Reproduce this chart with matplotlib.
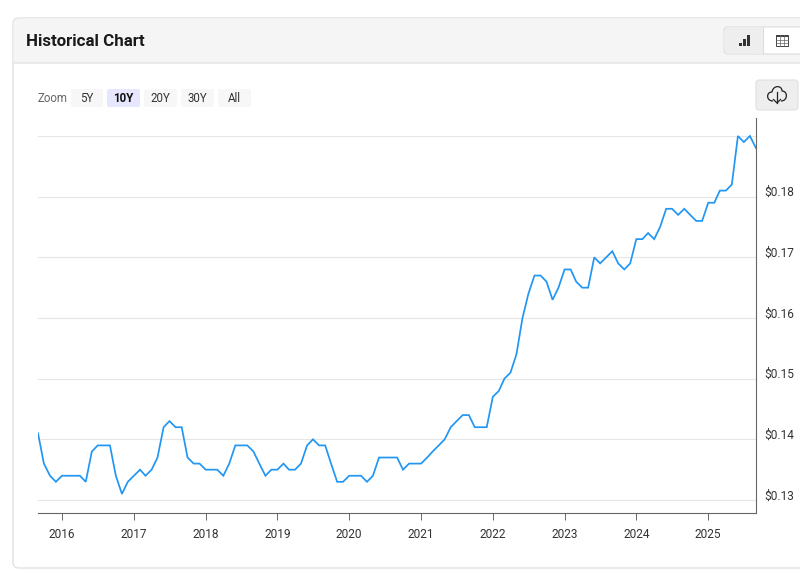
import pandas as pd
import matplotlib
matplotlib.use("Agg")
import matplotlib.pyplot as plt
from matplotlib.patches import FancyBboxPatch, Rectangle, PathPatch
from matplotlib.path import Path

plt.rcParams['font.family'] = ['Roboto', 'DejaVu Sans']

# ----------------------------
# Data (monthly, Sep 2015 - Sep 2025)
# ----------------------------
start_month = "2015-09-01"
values = [
    0.141, 0.136, 0.134, 0.133,
    0.134, 0.134, 0.134, 0.134, 0.133, 0.138, 0.139, 0.139, 0.139, 0.134, 0.131, 0.133,
    0.134, 0.135, 0.134, 0.135, 0.137, 0.142, 0.143, 0.142, 0.142, 0.137, 0.136, 0.136,
    0.135, 0.135, 0.135, 0.134, 0.136, 0.139, 0.139, 0.139, 0.138, 0.136, 0.134, 0.135,
    0.135, 0.136, 0.135, 0.135, 0.136, 0.139, 0.140, 0.139, 0.139, 0.136, 0.133, 0.133,
    0.134, 0.134, 0.134, 0.133, 0.134, 0.137, 0.137, 0.137, 0.137, 0.135, 0.136, 0.136,
    0.136, 0.137, 0.138, 0.139, 0.140, 0.142, 0.143, 0.144, 0.144, 0.142, 0.142, 0.142,
    0.147, 0.148, 0.150, 0.151, 0.154, 0.160, 0.164, 0.167, 0.167, 0.166, 0.163, 0.165,
    0.168, 0.168, 0.166, 0.165, 0.165, 0.170, 0.169, 0.170, 0.171, 0.169, 0.168, 0.169,
    0.173, 0.173, 0.174, 0.173, 0.175, 0.178, 0.178, 0.177, 0.178, 0.177, 0.176, 0.176,
    0.179, 0.179, 0.181, 0.181, 0.182, 0.190, 0.189, 0.190, 0.188,
]
years = [2016, 2017, 2018, 2019, 2020, 2021, 2022, 2023, 2024, 2025]
grid_values = [0.13, 0.14, 0.15, 0.16, 0.17, 0.18, 0.19]
label_values = [0.13, 0.14, 0.15, 0.16, 0.17, 0.18]
zoom_labels = ["5Y", "10Y", "20Y", "30Y", "All"]
selected_zoom = "10Y"

months = pd.date_range(start_month, periods=len(values), freq="MS")

W, H = 800, 574
fig = plt.figure(figsize=(W / 100, H / 100), dpi=100)

# ----------------------------
# Page furniture, in pixels
# ----------------------------
bg = fig.add_axes([0, 0, 1, 1])
bg.set_xlim(0, W)
bg.set_ylim(H, 0)
bg.axis("off")


def box(x0, y0, x1, y1, face, edge="none", r=3, lw=0.8, z=1):
    bg.add_patch(FancyBboxPatch((x0, y0), x1 - x0, y1 - y0,
                                boxstyle=f"round,pad=0,rounding_size={r}",
                                fc=face, ec=edge, lw=lw, zorder=z))


# card and header
box(13, 18, 830, 568, "white", "#e2e2e2", r=6, lw=1.0)
box(13.5, 18.5, 830, 70, "#f5f5f5", r=6, z=1.1)
bg.add_patch(Rectangle((13.5, 50), 820, 20, fc="white", ec="none", zorder=1.15))
bg.add_patch(Rectangle((13.5, 40), 820, 22.5, fc="#f5f5f5", ec="none", zorder=1.2))
bg.plot([13, 800], [63, 63], color="#e6e6e6", lw=1.1, zorder=1.3)
bg.text(26, 41.5, "Historical Chart", fontsize=12.2, fontweight="bold",
        color="#1a1a1a", va="center", ha="left", zorder=3)

# chart / table toggle
box(724, 27, 830, 54, "white", "#dddddd", r=4, z=2)
box(724.5, 27.5, 763, 53.5, "#eeeeee", r=4, z=2.1)
bg.add_patch(Rectangle((755, 27.5), 8, 26, fc="#eeeeee", ec="none", zorder=2.1))
bg.plot([763, 763], [27, 54], color="#dddddd", lw=0.8, zorder=2.2)
for bar_x, bar_top in [(738.5, 43), (742.5, 39), (746.5, 35)]:
    bg.add_patch(Rectangle((bar_x, bar_top), 3, 46 - bar_top, fc="#333333", ec="none", zorder=3))
bg.add_patch(Rectangle((776, 35), 12, 11, fc="white", ec="#444444", lw=0.7, zorder=3))
bg.add_patch(Rectangle((776, 34.5), 12, 2.5, fc="#444444", ec="none", zorder=3.1))
for gx in [780, 784]:
    bg.plot([gx, gx], [35, 46], color="#666666", lw=0.5, zorder=3.1)
for gy in [39.5, 43]:
    bg.plot([776, 788], [gy, gy], color="#666666", lw=0.5, zorder=3.1)

# zoom buttons
bg.text(38, 98, "Zoom", fontsize=8.3, color="#666666", va="center", ha="left", zorder=3)
button_edges = [(71, 103), (107, 140), (144, 177), (181, 214), (218, 251)]
for label, (x0, x1) in zip(zoom_labels, button_edges):
    on = label == selected_zoom
    box(x0, 89, x1, 107, "#e6e6ff" if on else "#f7f7f7", r=2, z=2)
    bg.text((x0 + x1) / 2, 98, label, fontsize=8.3, color="#111111" if on else "#333333",
            fontweight="bold" if on else "normal", va="center", ha="center", zorder=3)

# download button
box(756, 80, 798, 110, "#eeeeee", "#e0e0e0", r=3, z=2)
cloud = Path(
    [(773, 101), (766, 101), (766, 92), (772, 92),
     (773, 85), (782, 85), (782, 91),
     (788, 91), (788, 101), (781, 101)],
    [Path.MOVETO, Path.CURVE4, Path.CURVE4, Path.CURVE4,
     Path.CURVE4, Path.CURVE4, Path.CURVE4,
     Path.CURVE4, Path.CURVE4, Path.CURVE4],
)
bg.add_patch(PathPatch(cloud, fc="none", ec="#222222", lw=0.9, zorder=3))
bg.plot([777, 777], [92, 103], color="#222222", lw=0.9, zorder=3)
bg.plot([773.5, 777, 780.5], [99.5, 103, 99.5], color="#222222", lw=0.9, zorder=3)

# ----------------------------
# Plot results
# ----------------------------
left, right, top, bottom = 38, 756, 118, 513
ax = fig.add_axes([left / W, 1 - bottom / H, (right - left) / W, (bottom - top) / H])
ax.patch.set_alpha(0)

per_px = 0.01 / 60.67
ax.set_ylim(0.13 - (bottom - 500) * per_px, 0.19 + (136 - top) * per_px)
ax.set_xlim(months[0], months[-1])

for v in grid_values:
    ax.axhline(v, color="#e6e6e6", lw=0.8, zorder=1)
ax.plot(months, values, color="#2196f3", lw=1.25, zorder=3, solid_joinstyle="miter")

for side in ["left", "top"]:
    ax.spines[side].set_visible(False)
for side in ["right", "bottom"]:
    ax.spines[side].set_color("#666666")
    ax.spines[side].set_linewidth(0.8)

ax.set_xticks([pd.Timestamp(year=y, month=1, day=1) for y in years])
ax.set_xticklabels([str(y) for y in years])
ax.tick_params(axis="x", length=5, width=0.7, color="#666666", pad=5.5,
               labelsize=8.6, labelcolor="#333333")

ax.set_yticks([])
for v in label_values:
    # labels sit a little above their gridlines
    ax.annotate(f"${v:.2f}", xy=(1, v), xycoords=("axes fraction", "data"),
                xytext=(8, 4), textcoords="offset pixels", fontsize=8.6,
                color="#333333", va="center", ha="left", annotation_clip=False)

fig.savefig("out.png", dpi=100)
plt.close(fig)
